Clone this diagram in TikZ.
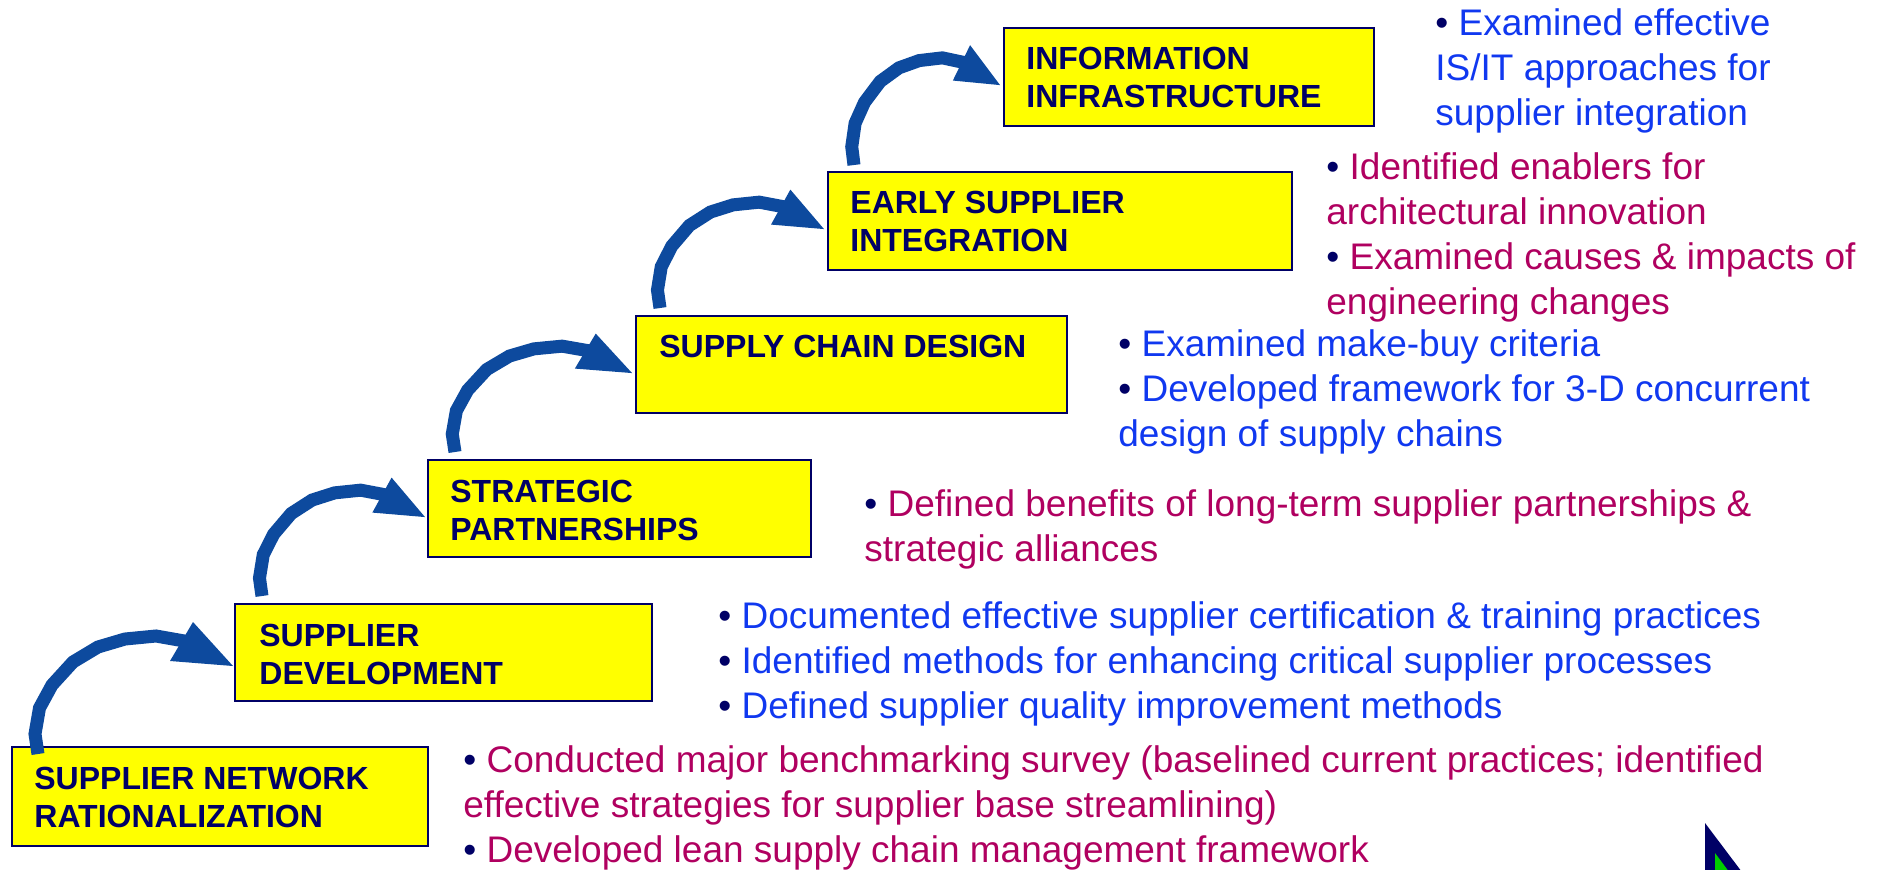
\documentclass[tikz,border=0pt]{standalone}
\usepackage{fontspec}
\setmainfont{Liberation Sans}
\usetikzlibrary{fit,calc}
\definecolor{navy}{RGB}{0,0,102}
\definecolor{boxyellow}{RGB}{255,255,0}
\definecolor{arrowblue}{RGB}{13,74,158}
\definecolor{txtblue}{RGB}{16,56,240}
\definecolor{txtmag}{RGB}{176,0,96}
\definecolor{logogreen}{RGB}{0,204,0}
\newcommand{\bul}{\textcolor{navy}{•} }
\begin{document}
\begin{tikzpicture}[x=0.5pt,y=-0.5pt,
  stepbox/.style={draw=navy, fill=boxyellow, line width=1.3pt, inner sep=0pt, outer sep=0pt},
  boxtext/.style={anchor=base west, inner sep=0pt, text=navy, font=\fontsize{16pt}{19pt}\selectfont\bfseries},
  bl/.style={anchor=base west, inner sep=0pt, text=txtblue, font=\fontsize{18.5pt}{22.5pt}\selectfont},
  mg/.style={bl, text=txtmag},
  curvarrow/.pic={
    \draw[arrowblue, line width=6.5pt, line join=miter]
      (0,0) -- (-3,-20) -- (1.5,-46) -- (14,-69) -- (35,-92) -- (60,-107)
      -- (87,-115) -- (118,-118) -- (152,-112);
    \fill[arrowblue] (155,-132) -- (195,-88) -- (132,-93) -- cycle;
  }]
\useasboundingbox (0,0) rectangle (1881,869);
\fill[white] (0,0) rectangle (1881,869);

% boxes
\coordinate (p1a) at (12,747);   \coordinate (p1b) at (428,846);
\coordinate (p2a) at (235,604);  \coordinate (p2b) at (652,701);
\coordinate (p3a) at (428,460);  \coordinate (p3b) at (811,557);
\coordinate (p4a) at (636,316);  \coordinate (p4b) at (1067,413);
\coordinate (p5a) at (828,172);  \coordinate (p5b) at (1292,270);
\coordinate (p6a) at (1004,28);  \coordinate (p6b) at (1374,126);
\node[stepbox, fit=(p1a)(p1b)] (b1) {};
\node[stepbox, fit=(p2a)(p2b)] (b2) {};
\node[stepbox, fit=(p3a)(p3b)] (b3) {};
\node[stepbox, fit=(p4a)(p4b)] (b4) {};
\node[stepbox, fit=(p5a)(p5b)] (b5) {};
\node[stepbox, fit=(p6a)(p6b)] (b6) {};

% box texts
\node[boxtext] (b1t1) at (34,789) {SUPPLIER NETWORK};
\node[boxtext] (b1t2) at (34,827) {RATIONALIZATION};
\node[boxtext] (b2t1) at (259,646) {SUPPLIER};
\node[boxtext] (b2t2) at (259,684) {DEVELOPMENT};
\node[boxtext] (b3t1) at (450,502) {STRATEGIC};
\node[boxtext] (b3t2) at (450,540) {PARTNERSHIPS};
\node[boxtext] (b4t1) at (659,357) {SUPPLY CHAIN DESIGN};
\node[boxtext] (b5t1) at (850,213) {EARLY SUPPLIER};
\node[boxtext] (b5t2) at (850,251) {INTEGRATION};
\node[boxtext] (b6t1) at (1026,69) {INFORMATION};
\node[boxtext] (b6t2) at (1026,107) {INFRASTRUCTURE};

% curved arrows
\pic at ($(b1.north west)+(26,7)$) {curvarrow};
\pic[xscale=0.836, yscale=0.897] at ($(b2.north west)+(27,-8)$) {curvarrow};
\pic[xscale=0.908, yscale=0.897] at ($(b3.north west)+(27,-8)$) {curvarrow};
\pic[xscale=0.841, yscale=0.897] at ($(b4.north west)+(24,-8)$) {curvarrow};
\pic[xscale=0.749, yscale=0.908] at ($(b5.north west)+(26,-7)$) {curvarrow};

% descriptions
\node[bl] (i1) at (1435,35) {\bul Examined effective};
\node[bl] (i2) at (1435,80) {IS/IT approaches for};
\node[bl] (i3) at (1435,125) {supplier integration};

\node[mg] (e1) at (1326,179) {\bul Identified enablers for};
\node[mg] (e2) at (1326,224) {architectural innovation};
\node[mg] (e3) at (1326,269) {\bul Examined causes \& impacts of};
\node[mg] (e4) at (1326,314) {engineering changes};

\node[bl] (s1) at (1118,356) {\bul Examined make-buy criteria};
\node[bl] (s2) at (1118,401) {\bul Developed framework for 3-D concurrent};
\node[bl] (s3) at (1118,446) {design of supply chains};

\node[mg] (p1) at (864,516) {\bul Defined benefits of long-term supplier partnerships \&};
\node[mg] (p2) at (864,561) {strategic alliances};

\node[bl] (d1) at (718,628) {\bul Documented effective supplier certification \& training practices};
\node[bl] (d2) at (718,673) {\bul Identified methods for enhancing critical supplier processes};
\node[bl] (d3) at (718,718) {\bul Defined supplier quality improvement methods};

\node[mg] (n1) at (463,772) {\bul Conducted major benchmarking survey (baselined current practices; identified};
\node[mg] (n2) at (463,817) {effective strategies for supplier base streamlining)};
\node[mg] (n3) at (463,862) {\bul Developed lean supply chain management framework};

% corner logo fragment
\begin{scope}
  \clip (0,0) rectangle (1881,869);
  \fill[navy] (1705,823) -- (1705,900) -- (1763,900) -- cycle;
  \fill[logogreen] (1715,853) -- (1715,900) -- (1750,900) -- cycle;
\end{scope}
\end{tikzpicture}
\end{document}
